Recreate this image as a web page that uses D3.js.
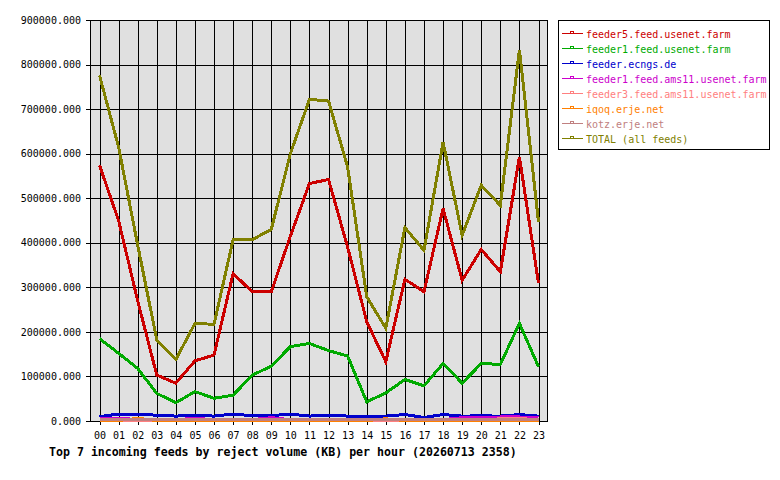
<!DOCTYPE html>
<html>
<head>
<meta charset="utf-8">
<script src="https://cdn.jsdelivr.net/npm/d3@7"></script>
<style>
  body { margin: 0; background: #fff; }
  svg text { font-family: "DejaVu Sans Mono", monospace; }
</style>
</head>
<body>
<div id="chart"></div>
<script>
var hours = ["00","01","02","03","04","05","06","07","08","09","10","11",
             "12","13","14","15","16","17","18","19","20","21","22","23"];
var yTicks = [0,100000,200000,300000,400000,500000,600000,700000,800000,900000];

var feedNames = [
  "feeder5.feed.usenet.farm",
  "feeder1.feed.usenet.farm",
  "feeder.ecngs.de",
  "feeder1.feed.ams11.usenet.farm",
  "feeder3.feed.ams11.usenet.farm",
  "iqoq.erje.net",
  "kotz.erje.net",
  "TOTAL (all feeds)"
];

var feeder5 = [574000,450000,270000,103000,85000,135000,148000,331000,290000,290000,415000,533000,
               542000,390000,223000,133000,318000,290000,477000,316000,385000,335000,593000,309000];
var feeder1 = [185000,152000,118000,62000,41000,66000,51000,58000,103000,123000,167000,174000,
               158000,146000,43000,63000,93000,79000,129000,85000,129000,127000,219000,122000];
var ecngs = [10000,15500,15500,13000,11000,13000,11000,15500,12000,12000,15500,11000,
             13000,11000,11000,11000,14500,8000,14500,11000,11500,11000,14500,11000];
var ams11a = [6500,6500,3000,3000,3000,6000,3000,3000,3000,7500,3000,3000,
              3000,3000,3000,3000,3000,3000,3000,7500,7500,9000,9000,7500];
var ams11b = [2000,2000,2000,2000,2000,2000,2000,2000,2000,2000,1000,2000,
              2000,2000,2000,2000,2000,2000,2000,2000,2000,5000,6000,2000];
var iqoq = [1000,1000,6000,1000,1000,1000,1000,1000,1000,1000,1000,1000,
            1000,1000,1000,5000,1000,1000,1000,1000,1000,1000,1000,1000];
var kotz = [3000,3000,3000,3000,3000,3000,3000,3000,3000,3000,3000,3000,
            3000,3000,3000,3000,3000,3000,3000,3000,3000,3000,3000,3000];
var total = [776000,615000,395000,182000,138000,219000,217000,407000,407000,430000,600000,722000,
             718000,570000,279000,208000,434000,383000,626000,417000,529000,484000,833000,447000];

var seriesValues = [feeder5, feeder1, ecngs, ams11a, ams11b, iqoq, kotz, total];
var colors = ["#cc0000","#00aa00","#0000cc","#cc00cc","#ff8080","#ff8000","#c08080","#808000"];

var W = 780, H = 480;
var pLeft = 90, pRight = 548, pTop = 20, pBottom = 421;

var svg = d3.select("#chart").append("svg")
  .attr("width", W)
  .attr("height", H);

var x = d3.scalePoint().domain(hours).range([99.5, 538.5]);
var y = d3.scaleLinear().domain([0, 900000]).range([pBottom, pTop]);

// plot background
svg.append("rect")
  .attr("x", pLeft).attr("y", pTop)
  .attr("width", pRight - pLeft).attr("height", pBottom - pTop)
  .attr("fill", "#e0e0e0");

// grid
svg.append("g")
  .attr("transform", "translate(0," + pBottom + ")")
  .call(d3.axisBottom(x).tickSize(-(pBottom - pTop)).tickFormat(""))
  .call(function (g) { g.select(".domain").remove(); })
  .selectAll("line").attr("stroke", "#000").attr("shape-rendering", "crispEdges");

svg.append("g")
  .attr("transform", "translate(" + pLeft + ",0)")
  .call(d3.axisLeft(y).tickValues(yTicks).tickSize(-(pRight - pLeft)).tickFormat(""))
  .call(function (g) { g.select(".domain").remove(); })
  .selectAll("line").attr("stroke", "#000").attr("shape-rendering", "crispEdges");

// frame
svg.append("rect")
  .attr("x", pLeft + 0.5).attr("y", pTop + 0.5)
  .attr("width", pRight - pLeft - 1).attr("height", pBottom - pTop)
  .attr("fill", "none").attr("stroke", "#000")
  .attr("shape-rendering", "crispEdges");

// axes
var yAxis = svg.append("g")
  .attr("transform", "translate(" + pLeft + ",0)")
  .call(d3.axisLeft(y).tickValues(yTicks).tickSize(4).tickPadding(5).tickFormat(d3.format(".3f")));
yAxis.select(".domain").remove();
yAxis.selectAll("line").attr("stroke", "#000").attr("shape-rendering", "crispEdges");
yAxis.selectAll("text").style("font-size", "10px").attr("fill", "#000");

var xAxis = svg.append("g")
  .attr("transform", "translate(0," + pBottom + ")")
  .call(d3.axisBottom(x).tickSize(4).tickPadding(7));
xAxis.select(".domain").remove();
xAxis.selectAll("line").attr("stroke", "#000").attr("shape-rendering", "crispEdges");
xAxis.selectAll("text").style("font-size", "10px").attr("fill", "#000");

// series
var line = d3.line()
  .x(function (d, i) { return x(hours[i]); })
  .y(function (d) { return y(d); });

svg.append("g").selectAll("path")
  .data(seriesValues)
  .enter()
  .append("path")
  .attr("d", line)
  .attr("fill", "none")
  .attr("stroke", function (d, i) { return colors[i]; })
  .attr("stroke-width", 3)
  .attr("shape-rendering", "crispEdges");

// title
svg.append("text")
  .attr("x", 49)
  .attr("y", 456)
  .style("font-size", "11.6px")
  .style("font-weight", "bold")
  .attr("fill", "#000")
  .text("Top 7 incoming feeds by reject volume (KB) per hour (20260713 2358)");

// legend
var legend = svg.append("g");
legend.append("rect")
  .attr("x", 558.5).attr("y", 20.5)
  .attr("width", 211).attr("height", 129)
  .attr("fill", "#fff").attr("stroke", "#000")
  .attr("shape-rendering", "crispEdges");

var item = legend.selectAll(".item")
  .data(feedNames)
  .enter()
  .append("g")
  .attr("class", "item")
  .attr("transform", function (d, i) { return "translate(0," + (33.5 + i * 15) + ")"; });

item.append("line")
  .attr("x1", 562).attr("x2", 583)
  .attr("y1", 0).attr("y2", 0)
  .attr("stroke", function (d, i) { return colors[i]; })
  .attr("stroke-width", 1)
  .attr("shape-rendering", "crispEdges");

item.append("rect")
  .attr("x", 570.5).attr("y", -2.5)
  .attr("width", 3).attr("height", 2.5)
  .attr("fill", "none")
  .attr("stroke", function (d, i) { return colors[i]; })
  .attr("shape-rendering", "crispEdges");

item.append("text")
  .attr("x", 586)
  .attr("y", 4)
  .style("font-size", "10px")
  .attr("fill", function (d, i) { return colors[i]; })
  .text(function (d) { return d; });
</script>
</body>
</html>
